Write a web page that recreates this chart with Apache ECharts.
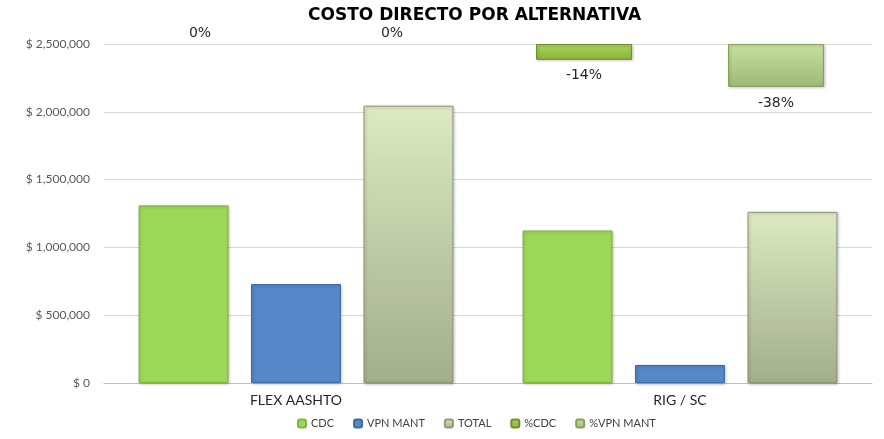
<!DOCTYPE html>
<html>
<head>
<meta charset="utf-8">
<script src="https://cdn.jsdelivr.net/npm/echarts@6/dist/echarts.min.js"></script>
<style>
  html, body { margin: 0; padding: 0; background: #fff; }
  #main { width: 884px; height: 439px; }
</style>
</head>
<body>
<div id="main"></div>
<script>
var categories = ['FLEX AASHTO', 'RIG / SC'];
var cdc = [1310000, 1125000];
var vpnMant = [730000, 133000];
var total = [2045000, 1262000];
var pctCdc = [0, -0.14];
var pctVpn = [0, -0.38];

function money(v) {
    return '$ ' + v.toLocaleString('en-US');
}
function pct(p) {
    return Math.round(p.value * 100) + '%';
}
function vGrad(c1, c2) {
    return new echarts.graphic.LinearGradient(0, 0, 0, 1, [
        { offset: 0, color: c1 },
        { offset: 1, color: c2 }
    ]);
}
// label above a 0 bar, below the hanging bar otherwise
function pctData(arr) {
    return arr.map(function (v) {
        if (v === 0) {
            return { value: v, label: { position: 'top', distance: 4 }, itemStyle: { borderWidth: 0 } };
        }
        return { value: v, label: { position: 'bottom', distance: 9 } };
    });
}

var chart = echarts.init(document.getElementById('main'));
var option = {
    animation: false,
    title: {
        text: 'COSTO DIRECTO POR ALTERNATIVA',
        left: 303,
        top: 2,
        textStyle: { fontFamily: 'DejaVu Sans', fontWeight: 'bold', fontSize: 17, color: '#000' }
    },
    legend: {
        bottom: 5,
        left: 292,
        itemWidth: 8,
        itemHeight: 8,
        itemGap: 19,
        textStyle: { fontFamily: 'Lato', fontSize: 11, color: '#404040' },
        data: ['CDC', 'VPN MANT', 'TOTAL', '%CDC', '%VPN MANT']
    },
    grid: { left: 104, right: 12, top: 44, bottom: 56 },
    xAxis: [
        {
            type: 'category',
            data: categories,
            axisTick: { show: false },
            axisLine: { lineStyle: { color: '#bfbfbf' } },
            axisLabel: { fontFamily: 'Lato', fontSize: 14, color: '#262626', margin: 10 }
        },
        {
            type: 'category',
            data: categories,
            show: false
        }
    ],
    yAxis: [
        {
            type: 'value',
            min: 0,
            max: 2500000,
            interval: 500000,
            axisLine: { show: false },
            axisTick: { show: false },
            splitLine: { lineStyle: { color: '#d9d9d9' } },
            axisLabel: {
                fontFamily: 'Lato', fontSize: 12, color: '#595959', margin: 14,
                formatter: money
            }
        },
        {
            type: 'value',
            min: -3,
            max: 0,
            show: false,
            splitLine: { show: false }
        }
    ],
    series: [
        {
            name: 'CDC', type: 'bar', data: cdc,
            barGap: '25%', barCategoryGap: '18%',
            itemStyle: { color: '#9dd958', borderColor: '#7fb540', borderWidth: 1,
                shadowColor: 'rgba(0,0,0,0.25)', shadowBlur: 3, shadowOffsetX: 1, shadowOffsetY: 1 }
        },
        {
            name: 'VPN MANT', type: 'bar', data: vpnMant,
            itemStyle: { color: '#5687c9', borderColor: '#3f6ca8', borderWidth: 1,
                shadowColor: 'rgba(0,0,0,0.25)', shadowBlur: 3, shadowOffsetX: 1, shadowOffsetY: 1 }
        },
        {
            name: 'TOTAL', type: 'bar', data: total,
            itemStyle: { color: vGrad('#dce9c2', '#a3ae8a'), borderColor: '#8f9a78', borderWidth: 1,
                shadowColor: 'rgba(0,0,0,0.25)', shadowBlur: 3, shadowOffsetX: 1, shadowOffsetY: 1 }
        },
        {
            name: '%CDC', type: 'bar', xAxisIndex: 1, yAxisIndex: 1, data: pctData(pctCdc),
            barGap: '100%', barCategoryGap: '25%',
            label: { show: true, formatter: pct, fontFamily: 'DejaVu Sans', fontSize: 14, color: '#262626' },
            itemStyle: { color: vGrad('#a9d35a', '#8cb43c'), borderColor: '#6f8f2e', borderWidth: 1,
                shadowColor: 'rgba(0,0,0,0.25)', shadowBlur: 3, shadowOffsetX: 1, shadowOffsetY: 1 }
        },
        {
            name: '%VPN MANT', type: 'bar', xAxisIndex: 1, yAxisIndex: 1, data: pctData(pctVpn),
            label: { show: true, formatter: pct, fontFamily: 'DejaVu Sans', fontSize: 14, color: '#262626' },
            itemStyle: { color: vGrad('#c8e0a0', '#9db977'), borderColor: '#86a060', borderWidth: 1,
                shadowColor: 'rgba(0,0,0,0.25)', shadowBlur: 3, shadowOffsetX: 1, shadowOffsetY: 1 }
        }
    ]
};
chart.setOption(option);
</script>
</body>
</html>
